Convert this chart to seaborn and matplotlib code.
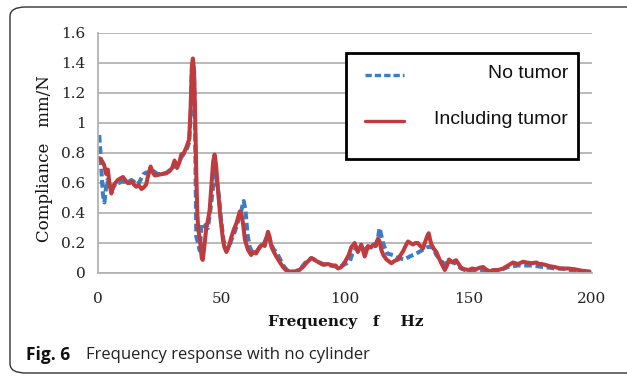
import matplotlib
matplotlib.use("Agg")
import matplotlib.pyplot as plt
import seaborn as sns
import pandas as pd
from matplotlib.patches import FancyBboxPatch, Rectangle
from matplotlib.lines import Line2D

# ---------------- data ----------------
red_f = [0.7, 1.5, 2.5, 3.3, 4.0, 4.6, 5.4, 6.2, 7.0, 8.0, 9.0, 10.1, 11.0, 12.0, 12.8,
         13.8, 14.5, 15.5, 16.5, 17.6, 18.5, 19.5, 20.3, 21.3, 22.2, 23.0, 24.5, 26.0,
         27.7, 29.0, 30.0, 31.0, 32.0, 33.0, 33.7, 34.8, 35.8, 36.9, 37.5, 38.0, 38.4,
         38.9, 39.4, 39.8, 40.2, 40.6, 41.3, 42.0, 42.4, 43.0, 43.9, 44.5, 45.2, 46.0,
         46.6, 47.2, 47.8, 48.6, 49.5, 50.6, 51.2, 52.0, 53.0, 54.0, 55.0, 56.0, 57.4,
         58.0, 58.7, 59.5, 60.7, 62.0, 63.0, 64.0, 65.5, 66.5, 67.5, 68.8, 69.5, 70.2,
         71.2, 72.2, 73.5, 74.9, 76.0, 77.6, 79.0, 80.3, 81.5, 83.0, 84.5, 86.4, 87.5,
         88.4, 89.5, 91.1, 93.0, 95.2, 96.2, 97.2, 98.5, 100.0, 101.5, 102.5, 103.9,
         105.2, 106.6, 108.0, 109.3, 110.5, 111.5, 112.5, 113.4, 114.0, 114.7, 115.5,
         116.8, 118.0, 118.8, 120.0, 121.5, 122.5, 123.5, 124.5, 125.5, 126.5, 127.5,
         128.5, 129.5, 130.5, 131.6, 132.5, 133.4, 133.9, 134.5, 135.0, 136.0, 137.0,
         138.0, 139.0, 140.4, 141.3, 142.1, 142.9, 143.6, 144.3, 145.0, 146.0, 147.0,
         148.5, 150.0, 151.5, 153.0, 154.5, 155.9, 157.0, 158.6, 160.0, 162.0, 164.0,
         166.0, 168.0, 170.0, 172.1, 173.5, 175.5, 177.5, 178.5, 179.5, 181.0, 182.9,
         185.0, 187.0, 190.3, 193.0, 196.0, 199.0]
red_y = [0.765, 0.75, 0.72, 0.66, 0.69, 0.60, 0.53, 0.58, 0.60, 0.62, 0.63, 0.64, 0.62,
         0.60, 0.60, 0.61, 0.59, 0.575, 0.585, 0.56, 0.57, 0.59, 0.65, 0.71, 0.67, 0.65,
         0.655, 0.66, 0.665, 0.68, 0.70, 0.75, 0.70, 0.74, 0.79, 0.80, 0.84, 0.89, 1.10,
         1.38, 1.43, 1.35, 1.00, 0.66, 0.40, 0.29, 0.22, 0.10, 0.087, 0.17, 0.31, 0.35,
         0.42, 0.60, 0.74, 0.79, 0.72, 0.55, 0.38, 0.22, 0.17, 0.14, 0.18, 0.24, 0.29,
         0.33, 0.41, 0.40, 0.33, 0.22, 0.155, 0.12, 0.14, 0.13, 0.175, 0.19, 0.18, 0.275,
         0.24, 0.175, 0.14, 0.11, 0.075, 0.04, 0.02, 0.01, 0.008, 0.01, 0.02, 0.04, 0.07,
         0.10, 0.09, 0.08, 0.07, 0.055, 0.06, 0.05, 0.05, 0.03, 0.04, 0.075, 0.12, 0.17,
         0.20, 0.14, 0.19, 0.11, 0.18, 0.17, 0.19, 0.18, 0.23, 0.21, 0.155, 0.12, 0.09,
         0.075, 0.065, 0.08, 0.09, 0.12, 0.145, 0.18, 0.21, 0.20, 0.19, 0.20, 0.20, 0.18,
         0.165, 0.21, 0.25, 0.265, 0.22, 0.19, 0.16, 0.14, 0.10, 0.065, 0.02, 0.05, 0.09,
         0.075, 0.07, 0.08, 0.085, 0.06, 0.035, 0.025, 0.02, 0.03, 0.025, 0.035, 0.04,
         0.025, 0.01, 0.02, 0.02, 0.03, 0.05, 0.07, 0.06, 0.075, 0.07, 0.065, 0.07, 0.06,
         0.06, 0.055, 0.045, 0.04, 0.03, 0.03, 0.025, 0.015, 0.01]

blue_f = [0.5, 1.0, 1.5, 2.0, 2.6, 3.2, 3.8, 4.5, 5.5, 6.5, 7.5, 8.5, 9.5, 10.5, 11.5,
          12.5, 13.5, 14.5, 15.5, 16.5, 17.5, 18.5, 19.5, 20.5, 21.5, 22.5, 24.0, 26.0,
          28.0, 30.0, 31.5, 33.0, 34.5, 35.8, 36.9, 37.5, 38.0, 38.4, 38.9, 39.3, 39.8,
          40.5, 41.2, 41.9, 42.7, 43.5, 44.5, 45.5, 46.6, 47.4, 48.2, 48.9, 49.8, 50.8,
          52.0, 53.0, 54.0, 55.5, 57.0, 57.8, 58.5, 59.0, 59.7, 60.5, 61.5, 62.5, 64.0,
          65.5, 67.0, 68.8, 70.0, 71.0, 72.2, 73.5, 75.0, 76.5, 78.0, 80.0, 82.0, 84.0,
          86.4, 88.5, 91.0, 94.0, 97.0, 99.0, 101.9, 103.0, 104.5, 106.0, 107.5, 109.0,
          110.5, 112.0, 113.2, 114.0, 115.4, 117.0, 119.4, 121.5, 124.0, 126.2, 128.9,
          131.0, 133.0, 134.3, 135.5, 137.0, 138.5, 140.0, 141.5, 142.4, 144.0, 145.0,
          147.0, 150.0, 153.0, 156.0, 160.0, 163.0, 166.0, 170.0, 173.0, 175.0, 178.0,
          180.0, 183.0, 185.0, 188.0, 190.0, 193.0, 196.0, 199.0]
blue_y = [0.92, 0.80, 0.65, 0.52, 0.47, 0.56, 0.62, 0.58, 0.55, 0.58, 0.60, 0.60, 0.61,
          0.61, 0.60, 0.61, 0.62, 0.61, 0.59, 0.60, 0.63, 0.66, 0.67, 0.67, 0.68, 0.68,
          0.66, 0.66, 0.67, 0.70, 0.72, 0.75, 0.79, 0.82, 0.87, 1.05, 1.35, 1.40, 1.30,
          0.95, 0.24, 0.20, 0.15, 0.32, 0.30, 0.32, 0.30, 0.42, 0.575, 0.66, 0.60, 0.52,
          0.36, 0.22, 0.15, 0.17, 0.22, 0.28, 0.36, 0.40, 0.45, 0.48, 0.42, 0.26, 0.17,
          0.14, 0.14, 0.17, 0.19, 0.26, 0.20, 0.16, 0.14, 0.10, 0.05, 0.02, 0.01, 0.01,
          0.03, 0.07, 0.10, 0.08, 0.06, 0.05, 0.04, 0.05, 0.075, 0.13, 0.17, 0.16, 0.15,
          0.17, 0.17, 0.18, 0.22, 0.30, 0.20, 0.13, 0.12, 0.10, 0.09, 0.11, 0.13, 0.15,
          0.17, 0.175, 0.17, 0.12, 0.09, 0.06, 0.07, 0.085, 0.07, 0.06, 0.03, 0.01, 0.02,
          0.02, 0.01, 0.02, 0.04, 0.05, 0.05, 0.05, 0.045, 0.04, 0.035, 0.03, 0.03, 0.02,
          0.015, 0.01, 0.005]

x_ticks = [0, 50, 100, 150, 200]
y_ticks = [0, 0.2, 0.4, 0.6, 0.8, 1.0, 1.2, 1.4, 1.6]
y_tick_labels = ["0", "0.2", "0.4", "0.6", "0.8", "1", "1.2", "1.4", "1.6"]
series_names = ["No tumor", "Including tumor"]
x_label = "Frequency   f    Hz"
y_label = "Compliance   mm/N"
caption_bold = "Fig. 6"
caption_text = "Frequency response with no cylinder"

# ---------------- style ----------------
sns.set_theme(style="white")
plt.rcParams["font.family"] = ["DejaVu Serif"]

BLUE = "#3D7DC2"
RED = "#BF3B3E"
GRID = "#b3b3b3"
DASH = (0, (1.9, 0.9))
W, H = 627, 377

fig = plt.figure(figsize=(6.27, 3.77), dpi=100)
ax = fig.add_axes([98 / W, 1 - 273 / H, (592 - 98) / W, (273 - 33) / H])

df_blue = pd.DataFrame({"f": blue_f, "y": blue_y})
df_red = pd.DataFrame({"f": red_f, "y": red_y})

sns.lineplot(data=df_blue, x="f", y="y", ax=ax, color=BLUE, lw=2.9,
             linestyle=DASH, estimator=None, sort=False)
sns.lineplot(data=df_red, x="f", y="y", ax=ax, color=RED, lw=2.9,
             estimator=None, sort=False)

ax.set_xlim(0, 200)
ax.set_ylim(0, 1.6)
ax.set_xticks(x_ticks)
ax.set_yticks(y_ticks)
ax.set_yticklabels(y_tick_labels)
ax.yaxis.grid(True, color=GRID, lw=1.3)
ax.xaxis.grid(False)
ax.set_axisbelow(True)
for s in ["top", "right"]:
    ax.spines[s].set_visible(False)
for s in ["left", "bottom"]:
    ax.spines[s].set_color(GRID)
    ax.spines[s].set_linewidth(1.3)
ax.tick_params(axis="both", which="major", length=5, width=1.2, color=GRID,
               labelsize=11, labelcolor="#222222", direction="out")
ax.tick_params(axis="x", pad=9)
ax.tick_params(axis="y", pad=4)
ax.set_xlabel(x_label, fontsize=11, fontweight="bold", color="#111111")
ax.set_ylabel(y_label, fontsize=12, color="#111111")
ax.xaxis.set_label_coords((346 - 98) / 494, -(315 - 273) / 240)
ax.yaxis.set_label_coords((53 - 98) / 494, (273 - 159) / 240)

# legend (box with right-aligned labels), placed in figure pixel coordinates
def fx(px):
    return px / W

def fy(py):
    return 1 - py / H

box = Rectangle((fx(346), fy(159)), fx(578) - fx(346), fy(53) - fy(159),
                transform=fig.transFigure, facecolor="white", edgecolor="black",
                lw=2.0, zorder=5)
fig.patches.append(box)
legend_styles = [dict(color=BLUE, lw=2.4, linestyle=DASH),
                 dict(color=RED, lw=2.4)]
legend_rows = [75, 121]
for name, style, row in zip(series_names, legend_styles, legend_rows):
    fig.add_artist(Line2D([fx(365), fx(404)], [fy(row), fy(row)],
                          transform=fig.transFigure, zorder=6, **style))
    fig.text(fx(568), fy(row - 2), name, ha="right", va="center",
             family="Liberation Sans", fontsize=14, color="#111111", zorder=6)

# caption and frame
fig.text(26 / W, 1 - 355 / H, caption_bold, fontsize=12.5, fontweight="bold",
         family="Open Sans", va="center", ha="left", color="#111111")
fig.text(86 / W, 1 - 355 / H, caption_text, fontsize=12,
         family="Open Sans", va="center", ha="left", color="#222222")

frame = FancyBboxPatch((10 / W, 1 - 373 / H), 700 / W, 366 / H,
                       boxstyle="round,pad=0,rounding_size=0.025",
                       transform=fig.transFigure, fill=False,
                       edgecolor="#333333", lw=1.0, clip_on=False)
fig.patches.append(frame)

fig.savefig("out.png", dpi=100)
